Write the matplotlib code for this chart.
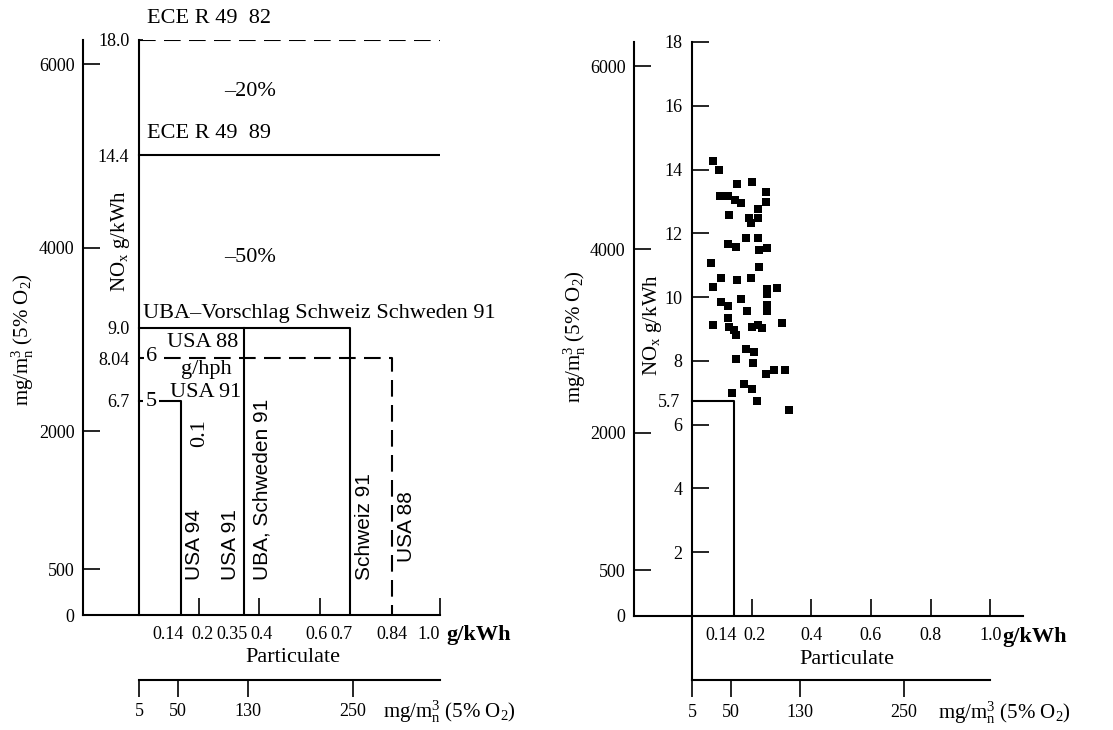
import matplotlib
matplotlib.use('Agg')
import matplotlib.pyplot as plt
import matplotlib.transforms as mtransforms

plt.rcParams['font.family'] = ['Liberation Serif', 'DejaVu Serif']
plt.rcParams['mathtext.fontset'] = 'custom'
plt.rcParams['mathtext.rm'] = 'Liberation Serif'
plt.rcParams['mathtext.it'] = 'Liberation Serif:italic'
plt.rcParams['mathtext.bf'] = 'Liberation Serif:bold'

# conversion g/kWh -> mg/m3 (5% O2)
mg_per_g = 348.0

# --- scales ---
mg_ticks = [0, 500, 2000, 4000, 6000]
nox_ticks_left = [6.7, 8.04, 9.0, 14.4, 18.0]
nox_labels_left = ['6.7', '8.04', '9.0', '14.4', '18.0']
nox_ticks_right = [2, 4, 6, 8, 10, 12, 14, 16, 18]
pm_ticks_left = [0.2, 0.4, 0.6, 1.0]
pm_marks_left = [0.14, 0.35, 0.7, 0.84]
pm_ticks_right = [0.2, 0.4, 0.6, 0.8, 1.0]
pm_marks_right = [0.14]
pm_mg_ticks = [5, 50, 130, 250]
pm_mg_range = [5, 350]

# --- limit values, left panel (particulate g/kWh, NOx g/kWh) ---
ece82_pm = [0.0, 1.0]
ece82_nox = [18.0, 18.0]
ece89_pm = [0.0, 1.0]
ece89_nox = [14.4, 14.4]
uba_pm = [0.0, 0.7, 0.7]
uba_nox = [9.0, 9.0, 0.0]
uba_split_pm = [0.35, 0.35]
uba_split_nox = [9.0, 0.0]
usa88_pm = [0.0, 0.84, 0.84]
usa88_nox = [8.04, 8.04, 0.0]
usa91_pm = [0.0, 0.14, 0.14]
usa91_nox = [6.7, 6.7, 0.0]

# --- right panel: limit box and measured engines ---
box_pm = [0.0, 0.14, 0.14]
box_nox = [6.75, 6.75, 0.0]
engine_pm = [0.069, 0.090, 0.151, 0.201, 0.247, 0.092, 0.119, 0.143, 0.164, 0.247,
             0.222, 0.124, 0.190, 0.222, 0.199, 0.181, 0.222, 0.122, 0.148, 0.223,
             0.252, 0.063, 0.223, 0.096, 0.151, 0.199, 0.071, 0.252, 0.284, 0.252,
             0.096, 0.122, 0.165, 0.252, 0.252, 0.185, 0.119, 0.069, 0.124, 0.140,
             0.148, 0.202, 0.220, 0.236, 0.303, 0.180, 0.206, 0.148, 0.204, 0.249,
             0.273, 0.312, 0.175, 0.201, 0.135, 0.218, 0.326]
engine_nox = [14.26, 13.98, 13.56, 13.61, 13.30, 13.18, 13.18, 13.06, 12.94, 12.97,
              12.75, 12.57, 12.47, 12.47, 12.31, 11.84, 11.84, 11.66, 11.58, 11.47,
              11.53, 11.06, 10.95, 10.59, 10.53, 10.59, 10.32, 10.25, 10.30, 10.09,
              9.85, 9.73, 9.94, 9.75, 9.56, 9.56, 9.33, 9.12, 9.05, 8.97,
              8.81, 9.05, 9.12, 9.02, 9.18, 8.36, 8.29, 8.05, 7.94, 7.59,
              7.71, 7.71, 7.26, 7.11, 6.98, 6.75, 6.46]

LW = 1.5
DASH = (0, (8, 4))
TICK_FS = 13
TEXT_FS = 16
SANS = ['Liberation Sans', 'DejaVu Sans']
MG_LABEL = r'mg/m$^3_\mathrm{n}$ (5% O$_2$)'
NOX_LABEL = r'NO$_\mathrm{x}$ g/kWh'


def setup_panel(ax, xlim, nox_ticks, nox_labels, nox_len, pm_ticks, pm_marks):
    ax.set_xlim(*xlim)
    ax.set_ylim(0, 18)
    ax.patch.set_visible(False)
    for side in ['top', 'right']:
        ax.spines[side].set_visible(False)
    ax.spines['left'].set_position(('data', 0))
    for side in ['left', 'bottom']:
        ax.spines[side].set_linewidth(LW)

    ax.set_yticks(nox_ticks, nox_labels)
    ax.tick_params(axis='y', direction='in', length=nox_len, width=1.2, pad=7, labelsize=TICK_FS)

    ax.set_xticks(pm_ticks, [('%.1f' % v) for v in pm_ticks])
    ax.set_xticks(pm_marks, [('%g' % v) for v in pm_marks], minor=True)
    ax.tick_params(axis='x', which='major', direction='in', length=12, width=1.2, pad=8,
                   labelsize=TICK_FS)
    ax.tick_params(axis='x', which='minor', direction='in', length=0, pad=8, labelsize=TICK_FS)

    # outer scale in mg/m3
    sec = ax.secondary_yaxis('left', functions=(lambda g: g * mg_per_g, lambda m: m / mg_per_g))
    sec.set_yticks(mg_ticks)
    sec.tick_params(direction='in', length=12, width=1.2, pad=6, labelsize=TICK_FS)
    sec.spines['left'].set_linewidth(LW)

    # particulate scale in mg/m3 below the axis
    bx = ax.inset_axes([0, -2.02, 1.0, 0.05], transform=ax.transData)
    bx.set_xlim(*pm_mg_range)
    bx.set_ylim(0, 1)
    bx.patch.set_visible(False)
    for side in ['top', 'right', 'left']:
        bx.spines[side].set_visible(False)
    bx.spines['bottom'].set_linewidth(LW)
    bx.set_yticks([])
    bx.set_xticks(pm_mg_ticks)
    bx.tick_params(axis='x', direction='out', length=12, width=1.2, pad=5, labelsize=13)
    return sec, bx


def nudge(labels, shifts_px):
    # shift crowded tick labels sideways, as in the printed figure
    for lab in labels:
        dx = shifts_px.get(lab.get_text())
        if dx:
            off = mtransforms.ScaledTranslation(dx / 100.0, 0, fig.dpi_scale_trans)
            lab.set_transform(lab.get_transform() + off)


fig = plt.figure(figsize=(11.13, 7.30), dpi=100)

# ================= left panel: limits =================
ax1 = fig.add_axes([83 / 1113, 115 / 730, 357 / 1113, 575 / 730])
setup_panel(ax1, (-0.186, 1.0), nox_ticks_left, nox_labels_left, 3,
            pm_ticks_left, pm_marks_left)
nudge(ax1.get_xticklabels() + ax1.get_xticklabels(minor=True),
      {'0.14': -13, '0.2': 3, '0.35': -12, '0.4': 2, '0.6': -3, '0.7': -8, '1.0': -11})

ax1.plot(ece82_pm, ece82_nox, color='black', lw=LW, ls=DASH)
ax1.plot(ece89_pm, ece89_nox, color='black', lw=LW)
ax1.plot(uba_pm, uba_nox, color='black', lw=LW)
ax1.plot(uba_split_pm, uba_split_nox, color='black', lw=LW)
ax1.plot(usa88_pm, usa88_nox, color='black', lw=LW, ls=DASH)
ax1.plot(usa91_pm, usa91_nox, color='black', lw=LW)

ax1.text(0.025, 18.68, 'ECE R 49  82', fontsize=TEXT_FS, va='center')
ax1.text(0.37, 16.4, '–20%', fontsize=TEXT_FS, ha='center', va='center')
ax1.text(0.025, 15.08, 'ECE R 49  89', fontsize=TEXT_FS, va='center')
ax1.text(0.37, 11.2, '–50%', fontsize=TEXT_FS, ha='center', va='center')
ax1.text(0.013, 9.45, 'UBA–Vorschlag Schweiz Schweden 91', fontsize=TEXT_FS, va='center')
ax1.text(0.213, 8.53, 'USA 88', fontsize=TEXT_FS, ha='center', va='center')
ax1.text(0.223, 7.68, 'g/hph', fontsize=TEXT_FS, ha='center', va='center')
ax1.text(0.223, 6.96, 'USA 91', fontsize=TEXT_FS, ha='center', va='center')
ax1.text(0.043, 8.1, '6', fontsize=TEXT_FS, ha='center', va='center',
         bbox=dict(facecolor='white', edgecolor='none', pad=1.5))
ax1.text(0.04, 6.68, '5', fontsize=TEXT_FS, ha='center', va='center',
         bbox=dict(facecolor='white', edgecolor='none', pad=1.5))

ax1.text(0.2, 5.7, '0.1', fontsize=TEXT_FS, rotation=90, ha='center', va='center')
ax1.text(0.186, 1.1, 'USA 94', family=SANS, fontsize=15, rotation=90, ha='center', va='bottom')
ax1.text(0.305, 1.1, 'USA 91', family=SANS, fontsize=15, rotation=90, ha='center', va='bottom')
ax1.text(0.408, 1.1, 'UBA, Schweden 91', family=SANS, fontsize=15, rotation=90,
         ha='center', va='bottom')
ax1.text(0.748, 1.1, 'Schweiz 91', family=SANS, fontsize=15, rotation=90, ha='center', va='bottom')
ax1.text(0.89, 1.66, 'USA 88', family=SANS, fontsize=15, rotation=90, ha='center', va='bottom')

ax1.text(-0.063, 11.7, NOX_LABEL, fontsize=15, rotation=90, ha='center', va='center')
ax1.text(-0.385, 8.62, MG_LABEL, fontsize=15, rotation=90, ha='center', va='center')
ax1.text(1.02, -0.63, 'g/kWh', fontsize=TEXT_FS, weight='bold', ha='left', va='center')
ax1.text(0.51, -1.34, 'Particulate', fontsize=TEXT_FS, ha='center', va='center')
ax1.text(0.81, -3.04, MG_LABEL, fontsize=15, ha='left', va='center')

# ================= right panel: engines =================
ax2 = fig.add_axes([634 / 1113, 114 / 730, 389 / 1113, 574 / 730])
setup_panel(ax2, (-0.195, 1.11), nox_ticks_right, [str(v) for v in nox_ticks_right], 12,
            pm_ticks_right, pm_marks_right)
ax2.spines['left'].set_bounds(-2.02, 18)
ax2.set_yticks([6.75], ['5.7'], minor=True)
ax2.tick_params(axis='y', which='minor', length=0, pad=9, labelsize=TICK_FS)
nudge(ax2.get_xticklabels() + ax2.get_xticklabels(minor=True), {'0.14': -13, '0.2': 3})

ax2.plot(box_pm, box_nox, color='black', lw=LW)
ax2.scatter(engine_pm, engine_nox, marker='s', s=30, color='black', linewidths=0, zorder=3)

ax2.text(-0.133, 9.12, NOX_LABEL, fontsize=15, rotation=90, ha='center', va='center')
ax2.text(-0.394, 8.75, MG_LABEL, fontsize=15, rotation=90, ha='center', va='center')
ax2.text(1.04, -0.66, 'g/kWh', fontsize=TEXT_FS, weight='bold', ha='left', va='center')
ax2.text(0.52, -1.35, 'Particulate', fontsize=TEXT_FS, ha='center', va='center')
ax2.text(0.824, -3.04, MG_LABEL, fontsize=15, ha='left', va='center')

fig.savefig('out.png', dpi=100)
plt.close('all')
